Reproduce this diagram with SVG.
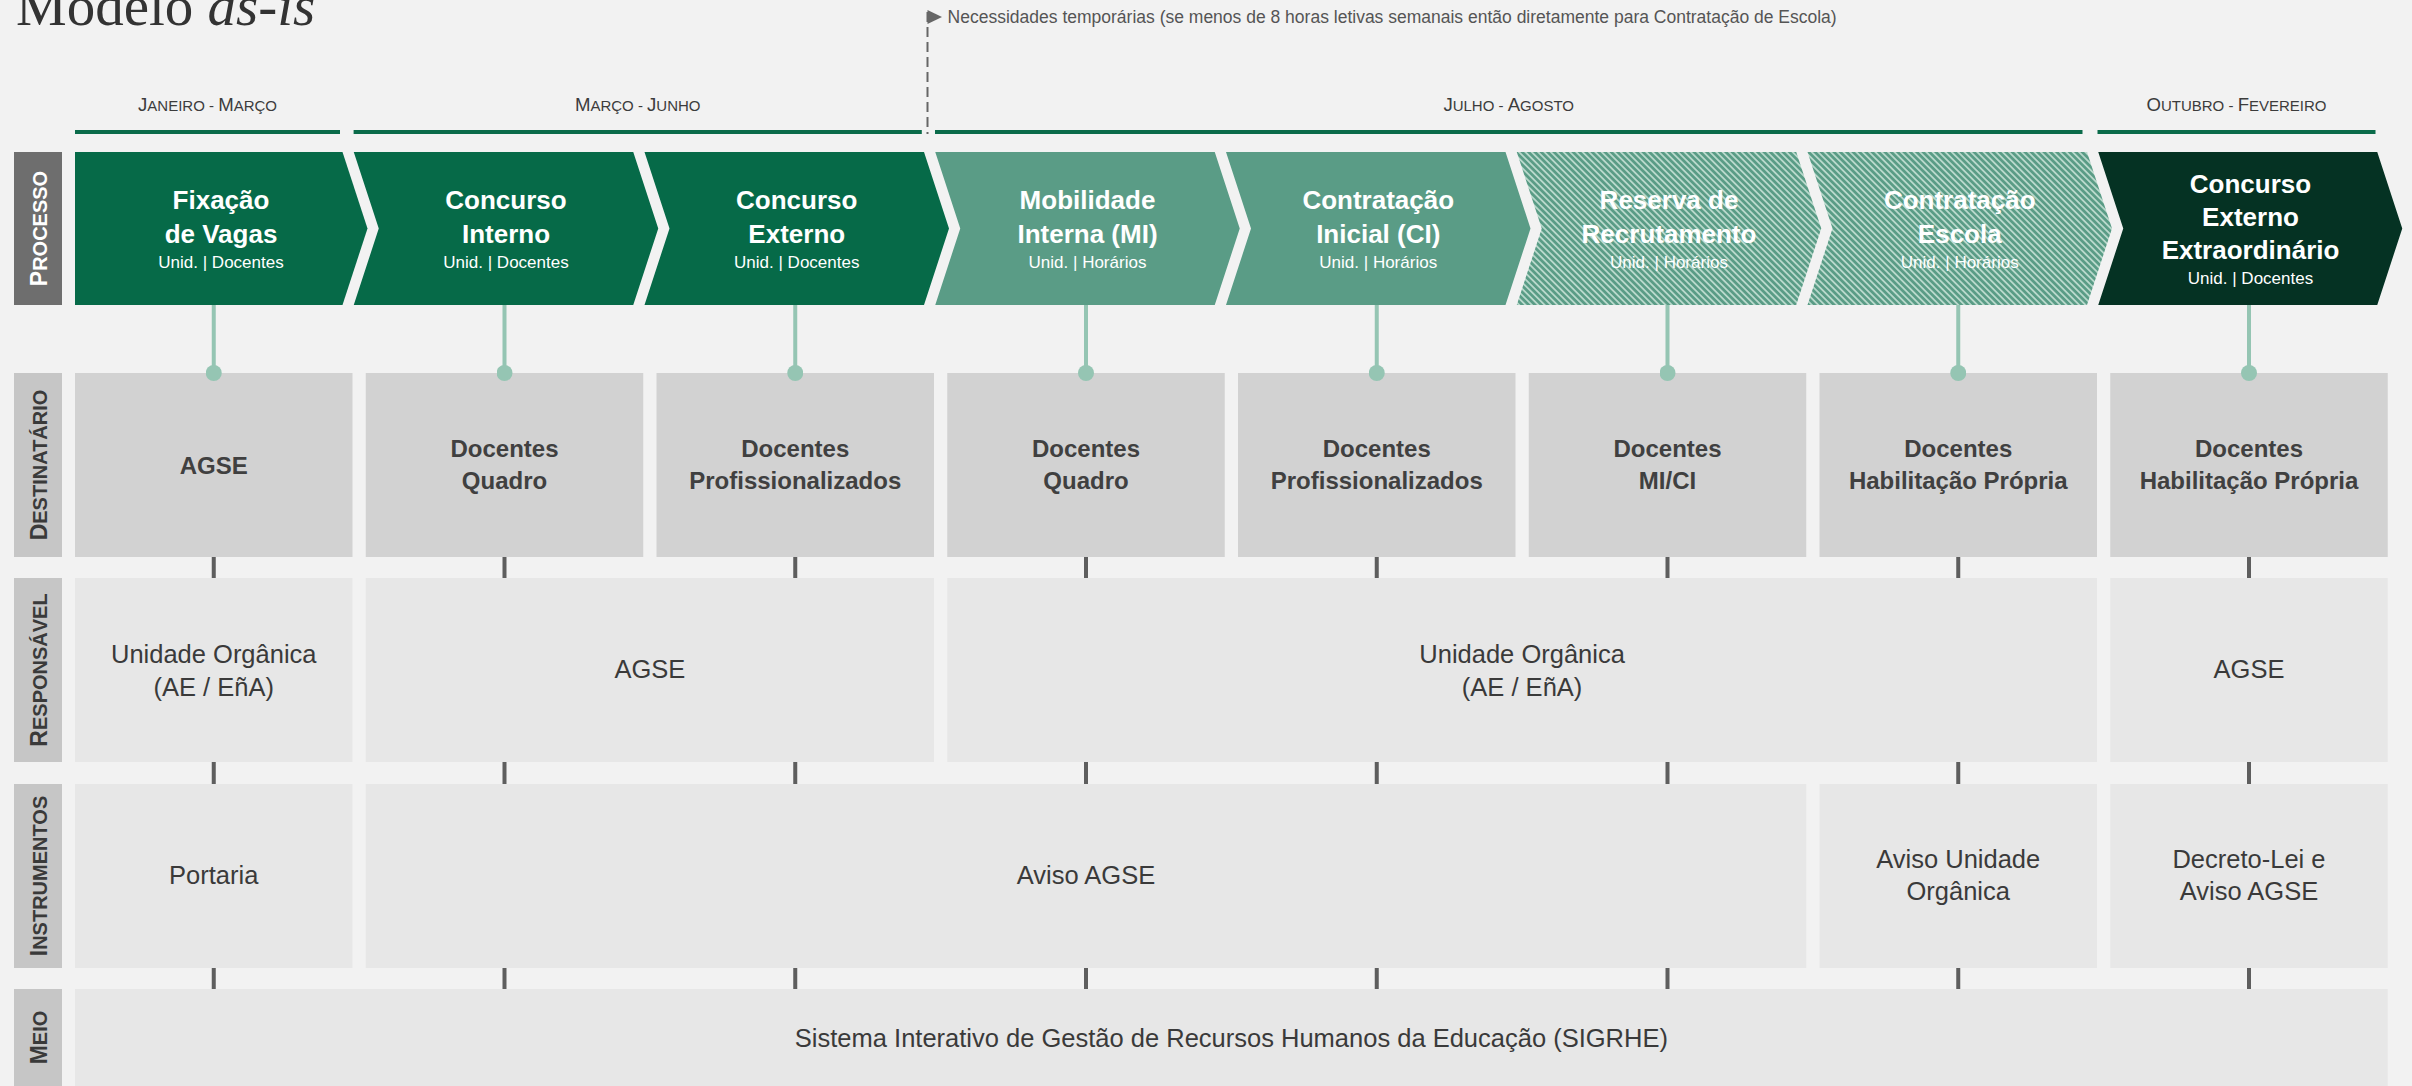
<svg xmlns="http://www.w3.org/2000/svg" width="2412" height="1086" viewBox="0 0 2412 1086">
<style>
.bg{fill:#f2f2f2}
.title{font-family:"Liberation Serif",serif;font-size:57px;fill:#333}
.period{font-family:"Liberation Sans",Arial,sans-serif;font-size:15px;fill:#3c3c3c;text-anchor:middle}
.period .cap{font-size:18.6px}
.pline{fill:#0a6b4a}
.note{font-family:"Liberation Sans",Arial,sans-serif;font-size:17.5px;fill:#555}
.lbl{font-family:"Liberation Sans",Arial,sans-serif;font-size:20px;font-weight:bold;text-anchor:middle;fill:#3a3a3a}
.lbl .cap{font-size:23px}
.lbl.w{fill:#fff}
.lboxd{fill:#6e6e6e}
.lbox{fill:#c6c6c6}
.chv{font-family:"Liberation Sans",Arial,sans-serif;font-size:26px;font-weight:bold;fill:#fff;text-anchor:middle}
.sub{font-family:"Liberation Sans",Arial,sans-serif;font-size:17px;fill:#fff;text-anchor:middle}
.g1{fill:#066a48}
.g2{fill:#5a9c86}
.g3{fill:url(#hatch)}
.g4{fill:#053223}
.dest{fill:#d2d2d2}
.cell{fill:#e7e7e7}
.dt{font-family:"Liberation Sans",Arial,sans-serif;font-size:24px;font-weight:bold;fill:#404040;text-anchor:middle}
.ct{font-family:"Liberation Sans",Arial,sans-serif;font-size:25.5px;fill:#3a3a3a;text-anchor:middle}
.gc{stroke:#95c5b3;stroke-width:4;fill:none;marker-end:url(#dot)}
.tick{stroke:#5e5e5e;stroke-width:4;fill:none}
.dash{stroke:#666;stroke-width:2;stroke-dasharray:10 5;fill:none}
</style>
<defs>
<pattern id="hatch" patternUnits="userSpaceOnUse" width="4.5" height="4.5" patternTransform="rotate(45)">
<rect width="4.5" height="4.5" fill="#5a9c86"/>
<rect width="4.5" height="1.8" fill="#b8d8cb"/>
</pattern>
<marker id="dot" viewBox="0 0 16 16" refX="8" refY="8" markerWidth="16" markerHeight="16" markerUnits="userSpaceOnUse">
<circle cx="8" cy="8" r="8" fill="#95c5b3"/>
</marker>
</defs>
<rect class="bg" x="0" y="0" width="2412" height="1086"/>

<g id="title">
<text class="title" x="16" y="25">Modelo <tspan font-style="italic">as-is</tspan></text>
</g>

<g id="periods">
<text class="period" x="207.5" y="110.7"><tspan class="cap">J</tspan>ANEIRO - <tspan class="cap">M</tspan>ARÇO</text>
<text class="period" x="637.7" y="110.7"><tspan class="cap">M</tspan>ARÇO - <tspan class="cap">J</tspan>UNHO</text>
<text class="period" x="1508.7" y="110.7"><tspan class="cap">J</tspan>ULHO - <tspan class="cap">A</tspan>GOSTO</text>
<text class="period" x="2236.5" y="110.7"><tspan class="cap">O</tspan>UTUBRO - <tspan class="cap">F</tspan>EVEREIRO</text>
<rect class="pline" x="75" y="130" width="265" height="4"/>
<rect class="pline" x="353.6" y="130" width="568.2" height="4"/>
<rect class="pline" x="935" y="130" width="1147.5" height="4"/>
<rect class="pline" x="2097.5" y="130" width="278" height="4"/>
</g>

<g id="note">
<line class="dash" x1="927.5" y1="12" x2="927.5" y2="134"/>
<polygon points="927.5,10 942,17 927.5,24" fill="#666"/>
<text class="note" x="947.6" y="22.5">Necessidades temporárias (se menos de 8 horas letivas semanais então diretamente para Contratação de Escola)</text>
</g>

<g id="row-labels">
<g id="lbl-processo"><rect class="lboxd" x="14" y="152" width="48" height="153"/><text class="lbl w" transform="translate(46.5,228.5) rotate(-90)"><tspan class="cap">P</tspan>ROCESSO</text></g>
<g id="lbl-destinatario"><rect class="lbox" x="14" y="373" width="48" height="184"/><text class="lbl" transform="translate(46.5,465) rotate(-90)"><tspan class="cap">D</tspan>ESTINATÁRIO</text></g>
<g id="lbl-responsavel"><rect class="lbox" x="14" y="578" width="48" height="184"/><text class="lbl" transform="translate(46.5,670) rotate(-90)"><tspan class="cap">R</tspan>ESPONSÁVEL</text></g>
<g id="lbl-instrumentos"><rect class="lbox" x="14" y="784" width="48" height="184"/><text class="lbl" transform="translate(46.5,876) rotate(-90)"><tspan class="cap">I</tspan>NSTRUMENTOS</text></g>
<g id="lbl-meio"><rect class="lbox" x="14" y="989" width="48" height="97"/><text class="lbl" transform="translate(46.5,1037.5) rotate(-90)"><tspan class="cap">M</tspan>EIO</text></g>
</g>

<g id="process">
<g id="p1"><path class="g1" d="M75,152H342.5L367.5,228.5L342.5,305H75Z"/>
<text class="chv" x="221" y="209">Fixação</text><text class="chv" x="221" y="243">de Vagas</text><text class="sub" x="221" y="268">Unid. | Docentes</text></g>
<g id="p2"><path class="g1" d="M353.75,152H633.25L658.25,228.5L633.25,305H353.75L378.75,228.5Z"/>
<text class="chv" x="506" y="209">Concurso</text><text class="chv" x="506" y="243">Interno</text><text class="sub" x="506" y="268">Unid. | Docentes</text></g>
<g id="p3"><path class="g1" d="M644.5,152H924L949,228.5L924,305H644.5L669.5,228.5Z"/>
<text class="chv" x="796.75" y="209">Concurso</text><text class="chv" x="796.75" y="243">Externo</text><text class="sub" x="796.75" y="268">Unid. | Docentes</text></g>
<g id="p4"><path class="g2" d="M935.25,152H1214.75L1239.75,228.5L1214.75,305H935.25L960.25,228.5Z"/>
<text class="chv" x="1087.5" y="209">Mobilidade</text><text class="chv" x="1087.5" y="243">Interna (MI)</text><text class="sub" x="1087.5" y="268">Unid. | Horários</text></g>
<g id="p5"><path class="g2" d="M1226,152H1505.5L1530.5,228.5L1505.5,305H1226L1251,228.5Z"/>
<text class="chv" x="1378.25" y="209">Contratação</text><text class="chv" x="1378.25" y="243">Inicial (CI)</text><text class="sub" x="1378.25" y="268">Unid. | Horários</text></g>
<g id="p6"><path class="g3" d="M1516.75,152H1796.25L1821.25,228.5L1796.25,305H1516.75L1541.75,228.5Z"/>
<text class="chv" x="1669" y="209">Reserva de</text><text class="chv" x="1669" y="243">Recrutamento</text><text class="sub" x="1669" y="268">Unid. | Horários</text></g>
<g id="p7"><path class="g3" d="M1807.5,152H2087L2112,228.5L2087,305H1807.5L1832.5,228.5Z"/>
<text class="chv" x="1959.75" y="209">Contratação</text><text class="chv" x="1959.75" y="243">Escola</text><text class="sub" x="1959.75" y="268">Unid. | Horários</text></g>
<g id="p8"><path class="g4" d="M2098.25,152H2377.25L2402.25,228.5L2377.25,305H2098.25L2123.25,228.5Z"/>
<text class="chv" x="2250.5" y="193">Concurso</text><text class="chv" x="2250.5" y="226">Externo</text><text class="chv" x="2250.5" y="259">Extraordinário</text><text class="sub" x="2250.5" y="284">Unid. | Docentes</text></g>
</g>

<g id="destinatario">
<g id="d1"><rect class="dest" x="75" y="373" width="277.5" height="184"/><text class="dt" x="213.75" y="474">AGSE</text></g>
<g id="d2"><rect class="dest" x="365.75" y="373" width="277.5" height="184"/><text class="dt" x="504.5" y="457.3">Docentes</text><text class="dt" x="504.5" y="489.3">Quadro</text></g>
<g id="d3"><rect class="dest" x="656.5" y="373" width="277.5" height="184"/><text class="dt" x="795.25" y="457.3">Docentes</text><text class="dt" x="795.25" y="489.3">Profissionalizados</text></g>
<g id="d4"><rect class="dest" x="947.25" y="373" width="277.5" height="184"/><text class="dt" x="1086" y="457.3">Docentes</text><text class="dt" x="1086" y="489.3">Quadro</text></g>
<g id="d5"><rect class="dest" x="1238" y="373" width="277.5" height="184"/><text class="dt" x="1376.75" y="457.3">Docentes</text><text class="dt" x="1376.75" y="489.3">Profissionalizados</text></g>
<g id="d6"><rect class="dest" x="1528.75" y="373" width="277.5" height="184"/><text class="dt" x="1667.5" y="457.3">Docentes</text><text class="dt" x="1667.5" y="489.3">MI/CI</text></g>
<g id="d7"><rect class="dest" x="1819.5" y="373" width="277.5" height="184"/><text class="dt" x="1958.25" y="457.3">Docentes</text><text class="dt" x="1958.25" y="489.3">Habilitação Própria</text></g>
<g id="d8"><rect class="dest" x="2110.25" y="373" width="277.5" height="184"/><text class="dt" x="2249" y="457.3">Docentes</text><text class="dt" x="2249" y="489.3">Habilitação Própria</text></g>
</g>

<g id="responsavel">
<g id="r1"><rect class="cell" x="75" y="578" width="277.5" height="184"/><text class="ct" x="213.75" y="663.3">Unidade Orgânica</text><text class="ct" x="213.75" y="695.7">(AE / EñA)</text></g>
<g id="r2"><rect class="cell" x="365.75" y="578" width="568.25" height="184"/><text class="ct" x="649.9" y="678.3">AGSE</text></g>
<g id="r3"><rect class="cell" x="947.25" y="578" width="1149.75" height="184"/><text class="ct" x="1522.1" y="663.3">Unidade Orgânica</text><text class="ct" x="1522.1" y="695.7">(AE / EñA)</text></g>
<g id="r4"><rect class="cell" x="2110.25" y="578" width="277.5" height="184"/><text class="ct" x="2249" y="678.3">AGSE</text></g>
</g>

<g id="instrumentos">
<g id="i1"><rect class="cell" x="75" y="784" width="277.5" height="184"/><text class="ct" x="213.75" y="884.3">Portaria</text></g>
<g id="i2"><rect class="cell" x="365.75" y="784" width="1440.5" height="184"/><text class="ct" x="1086" y="884.3">Aviso AGSE</text></g>
<g id="i3"><rect class="cell" x="1819.5" y="784" width="277.5" height="184"/><text class="ct" x="1958.25" y="868.3">Aviso Unidade</text><text class="ct" x="1958.25" y="900">Orgânica</text></g>
<g id="i4"><rect class="cell" x="2110.25" y="784" width="277.5" height="184"/><text class="ct" x="2249" y="868.3">Decreto-Lei e</text><text class="ct" x="2249" y="900">Aviso AGSE</text></g>
</g>

<g id="meio">
<rect class="cell" x="75" y="989" width="2312.75" height="97"/>
<text class="ct" x="1231.4" y="1047.3">Sistema Interativo de Gestão de Recursos Humanos da Educação (SIGRHE)</text>
</g>

<g id="connectors">
<line class="gc" x1="213.75" y1="305" x2="213.75" y2="373"/>
<line class="gc" x1="504.5" y1="305" x2="504.5" y2="373"/>
<line class="gc" x1="795.25" y1="305" x2="795.25" y2="373"/>
<line class="gc" x1="1086" y1="305" x2="1086" y2="373"/>
<line class="gc" x1="1376.75" y1="305" x2="1376.75" y2="373"/>
<line class="gc" x1="1667.5" y1="305" x2="1667.5" y2="373"/>
<line class="gc" x1="1958.25" y1="305" x2="1958.25" y2="373"/>
<line class="gc" x1="2249" y1="305" x2="2249" y2="373"/>
<path class="tick" d="M213.75,557V578M504.5,557V578M795.25,557V578M1086,557V578M1376.75,557V578M1667.5,557V578M1958.25,557V578M2249,557V578"/>
<path class="tick" d="M213.75,762V784M504.5,762V784M795.25,762V784M1086,762V784M1376.75,762V784M1667.5,762V784M1958.25,762V784M2249,762V784"/>
<path class="tick" d="M213.75,968V989M504.5,968V989M795.25,968V989M1086,968V989M1376.75,968V989M1667.5,968V989M1958.25,968V989M2249,968V989"/>
</g>
</svg>
